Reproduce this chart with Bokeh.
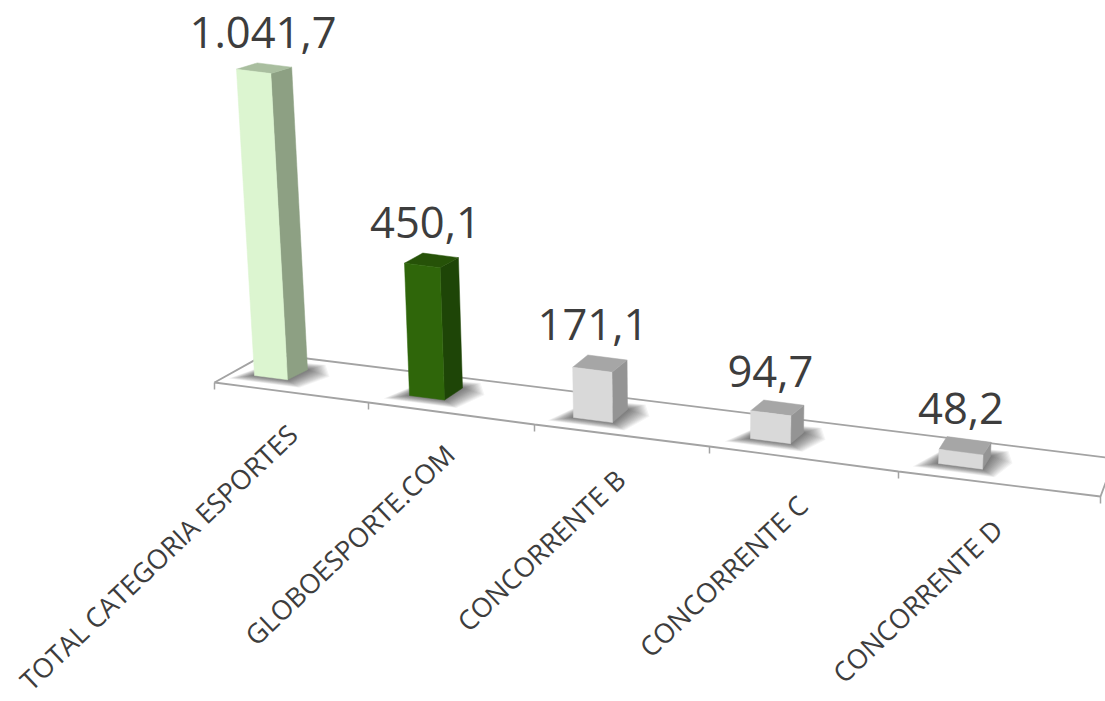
from bokeh.plotting import figure
from bokeh.models import Range1d
from bokeh.core.properties import value as fixed
from bokeh.embed import file_html
from bokeh.resources import INLINE

categories = ["TOTAL CATEGORIA ESPORTES", "GLOBOESPORTE.COM", "CONCORRENTE B", "CONCORRENTE C", "CONCORRENTE D"]
values = [1041.7, 450.1, 171.1, 94.7, 48.2]
value_labels = ["1.041,7", "450,1", "171,1", "94,7", "48,2"]

front_colors = ["#DCF5D0", "#2F660A", "#D9D9D9", "#D9D9D9", "#D9D9D9"]
side_colors = ["#8DA083", "#1E4507", "#949494", "#949494", "#949494"]
top_colors = ["#A9BE9F", "#265208", "#A6A6A6", "#A6A6A6", "#A6A6A6"]

# perspective layout of the 3D scene, in screen pixels
BASE_X = [254, 409, 573, 750, 938]
BASE_Y = [375, 395, 417, 438, 463]
BAR_W = [33, 35, 39, 40, 44]
DEPTH_X = [20, 18, 15, 13, 8]
DEPTH_Y = [-10, -12, -13, -11, -13]
PX_PER_UNIT = 0.294
LABEL_DX = [-1, -6, -7, -7, -4]
LABEL_UP = [30, 31, 30, 29, 28]
TEXT_END_X = [292, 449, 620, 802, 997]
TEXT_END_Y = [429, 449, 474, 500, 524]
FLOOR_FRONT_X = [214, 368, 534, 709, 898, 1100]
FLOOR_FRONT_Y = [382, 402, 424, 446, 471, 496]
FLOOR_BACK = [(266, 353), (1114, 458)]
LABEL_COLOR = "#3D3D3D"
LINE_COLOR = "#A3A3A3"


def pt(i, across, depth, h):
    """Project bar i's local point (across, depth in 0..1; h = height in px) to the screen."""
    x = BASE_X[i] + across * BAR_W[i] + depth * DEPTH_X[i]
    y = BASE_Y[i] + across * BAR_W[i] * 0.13 + depth * DEPTH_Y[i] * (1 - 0.0012 * h) - h
    x = x + (x - 690) * h * 0.000135
    return x, y


def poly(points):
    return [q[0] for q in points], [q[1] for q in points]


p = figure(width=1105, height=701, output_backend="svg", toolbar_location=None,
           x_range=Range1d(0, 1105), y_range=Range1d(701, 0), min_border=0)
p.styles = {"position": "absolute", "left": "0px", "top": "0px"}
p.axis.visible = False
p.grid.visible = False
p.outline_line_color = None

# floor fill
fx = FLOOR_FRONT_X + [FLOOR_BACK[1][0], FLOOR_BACK[0][0]]
fy = FLOOR_FRONT_Y + [FLOOR_BACK[1][1], FLOOR_BACK[0][1]]
p.patch(fx, fy, fill_color="white", line_color=None)

# soft shadows
LAYERS = 16
for i in range(len(values)):
    fl, fr = pt(i, 0, 0, 0), pt(i, 1, 0, 0)
    br, bl = pt(i, 1, 1, 0), pt(i, 0, 1, 0)
    for k in range(LAYERS):
        e = 1 - k / (LAYERS - 1)
        sx, sy = poly([(fl[0] - 26 * e, fl[1] + 3 * e), (fr[0] + 12 * e, fr[1] + 8 * e),
                       (br[0] + 22 * e, br[1] + 7 * e), (br[0] + 18 * e, br[1] - 5 * e),
                       (bl[0] + 4 * e, bl[1] - 5 * e)])
        p.patch(sx, sy, fill_color="black", fill_alpha=0.045, line_color=None)

# floor outline and ticks
p.line(FLOOR_FRONT_X + [FLOOR_BACK[1][0]], FLOOR_FRONT_Y + [FLOOR_BACK[1][1]], line_color=LINE_COLOR, line_width=1.8)
p.line([FLOOR_FRONT_X[0], FLOOR_BACK[0][0], FLOOR_BACK[1][0]],
       [FLOOR_FRONT_Y[0], FLOOR_BACK[0][1], FLOOR_BACK[1][1]], line_color=LINE_COLOR, line_width=1.8)
p.segment(FLOOR_FRONT_X, FLOOR_FRONT_Y, FLOOR_FRONT_X, [y + 7 for y in FLOOR_FRONT_Y],
          line_color=LINE_COLOR, line_width=1.5)

# bars
for i, v in enumerate(values):
    h = v * PX_PER_UNIT
    front = [pt(i, 0, 0, 0), pt(i, 1, 0, 0), pt(i, 1, 0, h), pt(i, 0, 0, h)]
    side = [pt(i, 1, 0, 0), pt(i, 1, 1, 0), pt(i, 1, 1, h), pt(i, 1, 0, h)]
    top = [pt(i, 0, 0, h), pt(i, 1, 0, h), pt(i, 1, 1, h), pt(i, 0, 1, h)]
    for shape, col in ((side, side_colors[i]), (top, top_colors[i]), (front, front_colors[i])):
        sx, sy = poly(shape)
        p.patch(sx, sy, fill_color=col, line_color=col, line_width=0.5)

    lx = (pt(i, 0, 0, h)[0] + pt(i, 1, 1, h)[0]) / 2 + LABEL_DX[i]
    ly = pt(i, 0, 1, h)[1] - LABEL_UP[i]
    p.text([lx], [ly], text=[value_labels[i]], text_font=fixed("Open Sans"), text_font_size="43.5px",
           text_color=LABEL_COLOR, text_align="center", text_baseline="alphabetic")

# category labels
p.text(TEXT_END_X, TEXT_END_Y, text=categories, angle=0.76, text_font=fixed("Open Sans"),
       text_font_size="27px", text_color=LABEL_COLOR, text_align="right", text_baseline="middle")

open("out.html", "w").write(file_html(p, INLINE))
